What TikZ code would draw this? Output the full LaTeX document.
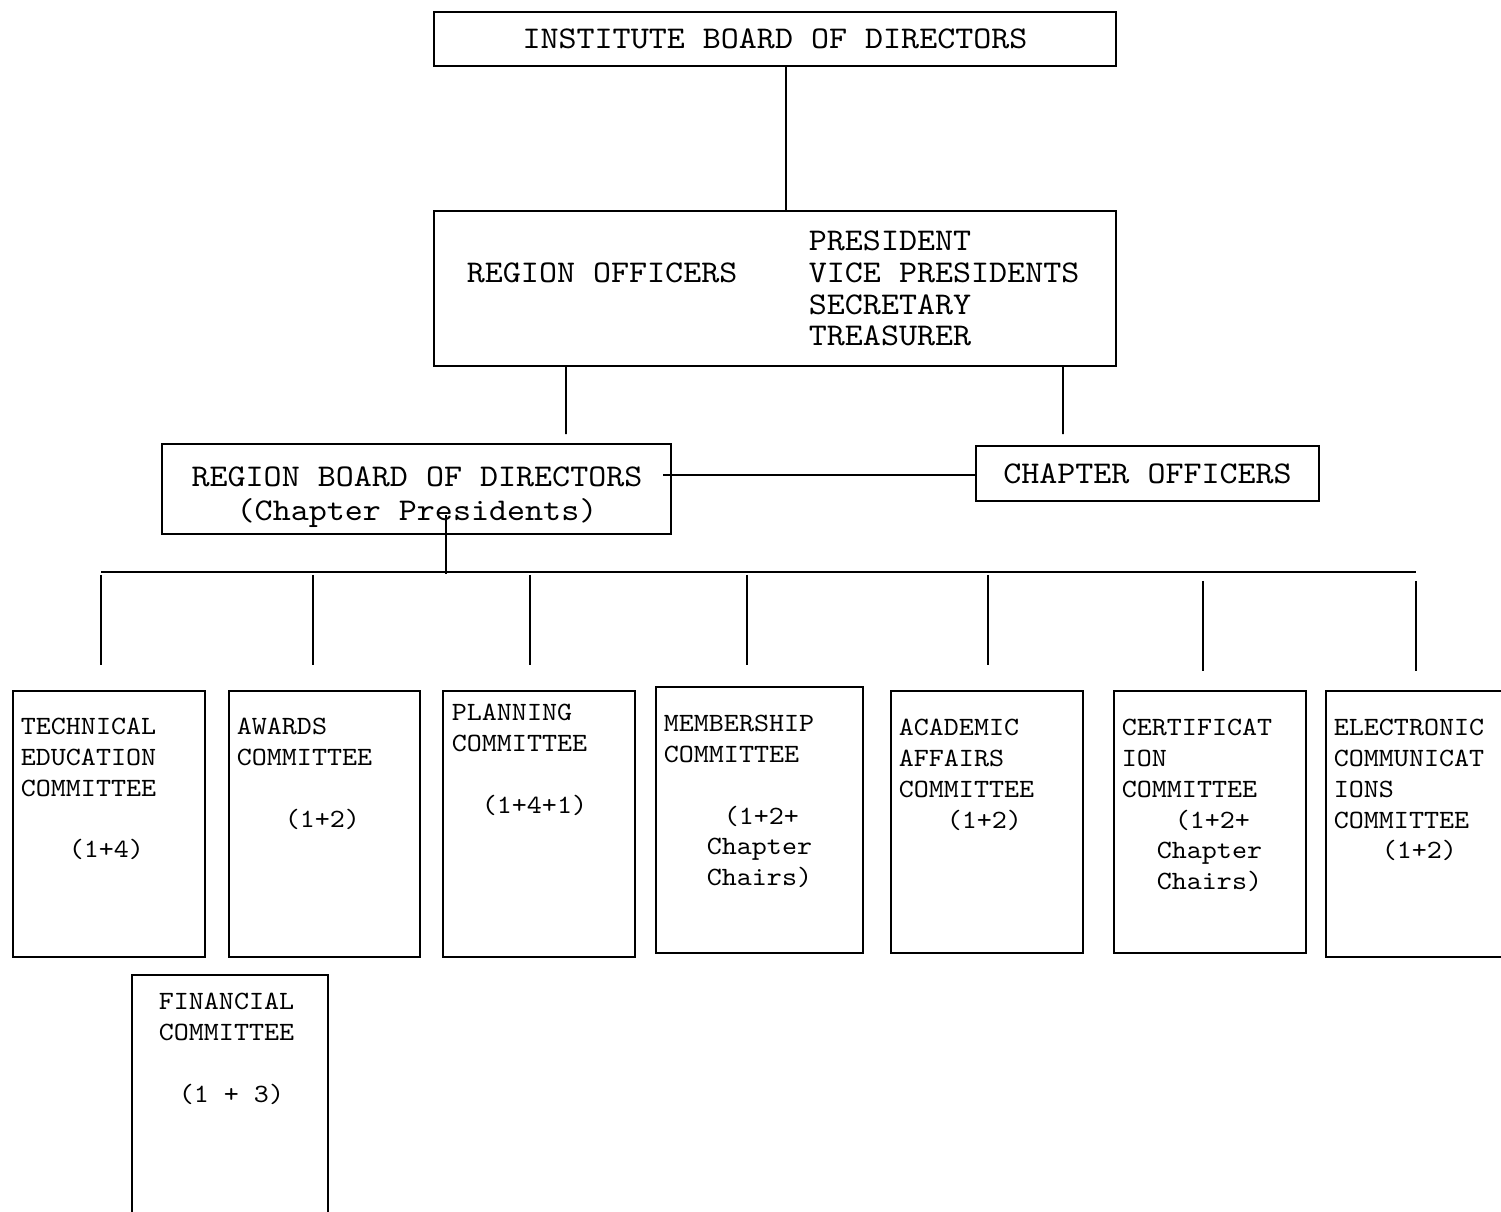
\documentclass[tikz,border=0pt]{standalone}
\usepackage{fontspec}
\setmonofont{lmmono10-regular.otf}[FakeStretch=1.086]
\usepackage{tikz}

\begin{document}
\begin{tikzpicture}[x=0.02cm, y=-0.02cm, line width=1pt,
		box/.style={draw, inner sep=0pt},
		bigtxt/.style={font=\ttfamily\fontsize{18}{18.1}\selectfont, inner sep=0pt},
		comtxt/.style={font=\ttfamily\fontsize{15}{17.6}\selectfont, inner sep=0pt, align=left, anchor=north west},
		combox/.style={draw, inner sep=0pt, anchor=north west, minimum width=3.84cm, minimum height=5.32cm}]
				\useasboundingbox (0,0) rectangle (1501,1212);
				\clip (0,0) rectangle (1501,1212);

				\node[box, bigtxt, minimum width=13.64cm, minimum height=1.08cm] (ibd) at (775,39) {INSTITUTE BOARD OF DIRECTORS};

				\node[box, minimum width=13.64cm, minimum height=3.1cm] (rof) at (775,288.5) {};
				\node[bigtxt, anchor=north west] (roftxt) at (466,262) {REGION OFFICERS};
				\node[bigtxt, anchor=north west, align=left] (roflist) at (808,230) {PRESIDENT\\VICE PRESIDENTS\\SECRETARY\\TREASURER};

				\node[box, minimum width=10.18cm, minimum height=1.8cm] (rbd) at (416.5,489) {};
				\node[bigtxt, anchor=north, align=center, font=\ttfamily\fontsize{18}{19.3}\selectfont] (rbdtxt) at (417,466) {REGION BOARD OF DIRECTORS\\(Chapter Presidents)};

				\node[box, bigtxt, minimum width=6.86cm, minimum height=1.1cm] (cof) at (1147.5,473.5) {CHAPTER OFFICERS};

				\draw ([xshift=0.22cm]ibd.south) -- ([xshift=0.22cm]rof.north); % board - officers
				\draw ([xshift=-4.18cm]rof.south) -- ([shift={(149.5,-9)}]rbd.north);
				\draw ([xshift=5.76cm]rof.south) -- ([shift={(-84.5,-11)}]cof.north);
				\draw ([yshift=-0.03cm]cof.west) -- ++(-312,0); % chapter officers - region board

				\coordinate (bus) at (446,572);
				\coordinate (busL) at (101,572);
				\coordinate (busR) at (1416,572);
				\draw ([yshift=-0.04cm]bus) -- ++(0,-59);
				\draw (busL) -- (busR);
				\foreach \x/\t in {101/575, 313/575, 530/575, 747/575, 988/575, 1203/581, 1416/581}
					\draw (\x,\t) -- ++(0,90);

				% committees
				\node[combox] (tec) at (12,690) {};
				\node[comtxt] (tectxt) at ([shift={(8,27)}]tec.north west) {TECHNICAL\\EDUCATION\\COMMITTEE\\[17.6pt]\hspace*{0.96cm}(1+4)};

				\node[combox, minimum width=3.82cm] (awd) at (228,690) {};
				\node[comtxt] (awdtxt) at ([shift={(8,27)}]awd.north west) {AWARDS\\COMMITTEE\\[17.6pt]\hspace*{0.96cm}(1+2)};

				\node[combox] (pln) at (442,690) {};
				\node[comtxt] (plntxt) at ([shift={(9,13)}]pln.north west) {PLANNING\\COMMITTEE\\[17.6pt]\hspace*{0.6cm}(1+4+1)};

				\node[combox, minimum width=4.14cm] (mem) at (655,686) {};
				\node[comtxt] (memtxt) at ([shift={(8,28)}]mem.north west) {MEMBERSHIP\\COMMITTEE\\[17.6pt]\hspace*{1.2cm}(1+2+\\\hspace*{0.86cm}Chapter\\\hspace*{0.86cm}Chairs)};

				\node[combox, minimum height=5.24cm] (aca) at (890,690) {};
				\node[comtxt] (acatxt) at ([shift={(8,28)}]aca.north west) {ACADEMIC\\AFFAIRS\\COMMITTEE\\\hspace*{0.96cm}(1+2)};

				\node[combox, minimum height=5.24cm] (cer) at (1113,690) {};
				\node[comtxt] (certxt) at ([shift={(8,28)}]cer.north west) {CERTIFICAT\\ION\\COMMITTEE\\\hspace*{1.06cm}(1+2+\\\hspace*{0.7cm}Chapter\\\hspace*{0.7cm}Chairs)};

				\node[combox, minimum width=4.2cm] (ele) at (1325,690) {};
				\node[comtxt] (eletxt) at ([shift={(8,28)}]ele.north west) {ELECTRONIC\\COMMUNICAT\\IONS\\COMMITTEE\\\hspace*{0.96cm}(1+2)};

				\node[combox, minimum width=3.92cm, minimum height=5.6cm] (fin) at (131,974) {};
				\node[comtxt] (fintxt) at ([shift={(27,18)}]fin.north west) {FINANCIAL\\COMMITTEE\\[17.6pt]\hspace*{0.4cm}(1 + 3)};
\end{tikzpicture}
\end{document}
